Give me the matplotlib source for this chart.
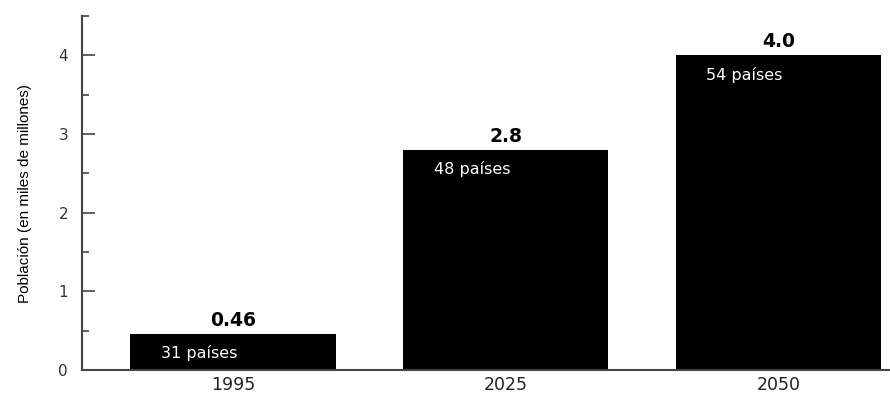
import numpy as np
import matplotlib.pyplot as plt
from matplotlib.ticker import MultipleLocator

# datos: poblacion en paises con escasez de agua
years = ['1995', '2025', '2050']
population = [0.46, 2.8, 4.0]
value_labels = ['0.46', '2.8', '4.0']
country_labels = ['31 países', '48 países', '54 países']

plt.rcParams['font.family'] = ['DejaVu Sans']

fig = plt.figure(figsize=(8.9, 3.94), dpi=100)
ax = fig.add_axes([0.0921, 0.0609, 0.9079, 0.8985])

x = np.arange(len(years))
bars = ax.bar(x, population, width=0.754, color='black')

ax.set_xlim(-0.555, 2.41)
ax.set_ylim(0, 4.5)

# valores arriba y numero de paises dentro de cada barra
for b, v, lab in zip(bars, value_labels, country_labels):
    ax.annotate(v, (b.get_x() + b.get_width() / 2, b.get_height()),
                xytext=(0, 3), textcoords='offset points',
                ha='center', va='bottom', fontsize=13.5, fontweight='bold')
    ax.annotate(lab, (b.get_x(), b.get_height()),
                xytext=(22, -14), textcoords='offset points',
                ha='left', va='center', fontsize=11.5, color='white')

ax.set_xticks(x)
ax.set_xticklabels(years, fontsize=12.5, color='#222222')
ax.tick_params(axis='x', length=0, pad=4)

ax.yaxis.set_major_locator(MultipleLocator(1))
ax.yaxis.set_minor_locator(MultipleLocator(0.5))
ax.tick_params(axis='y', which='major', direction='in', length=9, width=1.2,
               color='#444444', labelsize=11, labelcolor='#333333', pad=10)
ax.tick_params(axis='y', which='minor', direction='in', length=5, width=1.2,
               color='#444444')

ax.set_ylabel('Población (en miles de millones)', fontsize=11,
              family=['Liberation Sans'], labelpad=19)

for s in ['top', 'right']:
    ax.spines[s].set_visible(False)
for s in ['left', 'bottom']:
    ax.spines[s].set_color('#444444')
    ax.spines[s].set_linewidth(1.5)

fig.savefig('out.png', dpi=100)
